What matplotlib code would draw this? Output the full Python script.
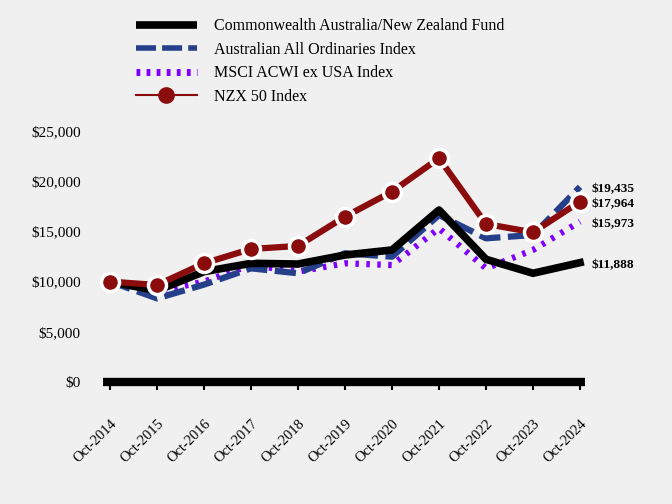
import matplotlib
matplotlib.use("Agg")
import matplotlib.pyplot as plt
import matplotlib.transforms as mtransforms
from matplotlib.lines import Line2D

years = ["Oct-2014", "Oct-2015", "Oct-2016", "Oct-2017", "Oct-2018", "Oct-2019",
         "Oct-2020", "Oct-2021", "Oct-2022", "Oct-2023", "Oct-2024"]
fund = [10000, 9100, 10990, 11820, 11750, 12650, 13150, 17130, 12220, 10830, 11888]
all_ords = [10000, 8330, 9700, 11320, 10830, 12820, 12480, 16630, 14310, 14640, 19435]
msci = [10000, 9000, 10000, 11650, 11000, 11820, 11650, 15300, 11320, 13150, 15973]
nzx = [10000, 9660, 11820, 13250, 13550, 16470, 18960, 22290, 15740, 14910, 17964]
yticks = [0, 5000, 10000, 15000, 20000, 25000]
ytick_labels = ["$0", "$5,000", "$10,000", "$15,000", "$20,000", "$25,000"]
names = ["Commonwealth Australia/New Zealand Fund", "Australian All Ordinaries Index",
         "MSCI ACWI ex USA Index", "NZX 50 Index"]

bg = "#f0f0f0"
c_fund, c_ords, c_msci, c_nzx = "black", "#253f8a", "#8000ff", "#8b0c0c"
plt.rcParams["font.family"] = "Liberation Serif"

fig = plt.figure(figsize=(6.72, 5.04), dpi=100, facecolor=bg)
ax = fig.add_axes([103/672, 1-382/504, (585-103)/672, (382-131)/504], facecolor=bg)
x = list(range(len(years)))

l3, = ax.plot(x, msci, color=c_msci, lw=4.5, linestyle=(0, (0.55, 1.2)), zorder=2,
              dash_capstyle="butt")
l2, = ax.plot(x, all_ords, color=c_ords, lw=4.5, linestyle=(0, (3.4, 1.2)), zorder=3,
              dash_capstyle="butt")
l1, = ax.plot(x, fund, color=c_fund, lw=5.5, zorder=4)
l4, = ax.plot(x, nzx, color=c_nzx, lw=4.5, marker="o", markersize=13,
              markerfacecolor=c_nzx, markeredgecolor="white", markeredgewidth=2.5, zorder=5)
for ln in (l1, l2, l3, l4):
    ln.set_clip_on(False)

ax.set_xlim(-0.149, 10.106)
ax.set_ylim(0, 25000)
ax.set_yticks(yticks)
ax.set_yticklabels(ytick_labels, fontsize=11)
ax.set_xticks(x)
ax.set_xticklabels(years, rotation=45, ha="right", rotation_mode="anchor", fontsize=10.5)
offset = mtransforms.ScaledTranslation(-8/100, 0, fig.dpi_scale_trans)
for lab in ax.get_xticklabels():
    lab.set_transform(lab.get_transform() + offset)
for s in ["top", "right", "left"]:
    ax.spines[s].set_visible(False)
ax.spines["bottom"].set_linewidth(6)
ax.spines["bottom"].set_color("black")
ax.spines["bottom"].set_capstyle("butt")
ax.tick_params(axis="y", length=0, pad=16)
ax.tick_params(axis="x", length=6, width=1.5, direction="out", pad=19.5)

# end labels
end_labels = [all_ords[-1], nzx[-1], msci[-1], fund[-1]]
for v in end_labels:
    ax.annotate(f"${v:,}", xy=(10, v), xytext=(8, -2), textcoords="offset points",
                fontsize=9.5, fontweight="bold", va="center", ha="left",
                annotation_clip=False)

handles = [
    Line2D([], [], color=c_fund, lw=5.5, solid_capstyle="butt"),
    Line2D([], [], color=c_ords, lw=4, linestyle=(0, (3.6, 1.1)), dash_capstyle="butt"),
    Line2D([], [], color=c_msci, lw=5, linestyle=(0, (0.55, 0.9)), dash_capstyle="butt"),
    Line2D([], [], color=c_nzx, lw=1.5, marker="o", markersize=11,
           markerfacecolor=c_nzx, markeredgecolor=c_nzx),
]
fig.legend(handles=handles, labels=names, loc="upper left",
           bbox_to_anchor=(121.5/672, 1-4/504), frameon=False, fontsize=11.5,
           handlelength=3.8, labelspacing=0.47, handletextpad=1.06)

fig.savefig("out.png", dpi=100, facecolor=bg)
